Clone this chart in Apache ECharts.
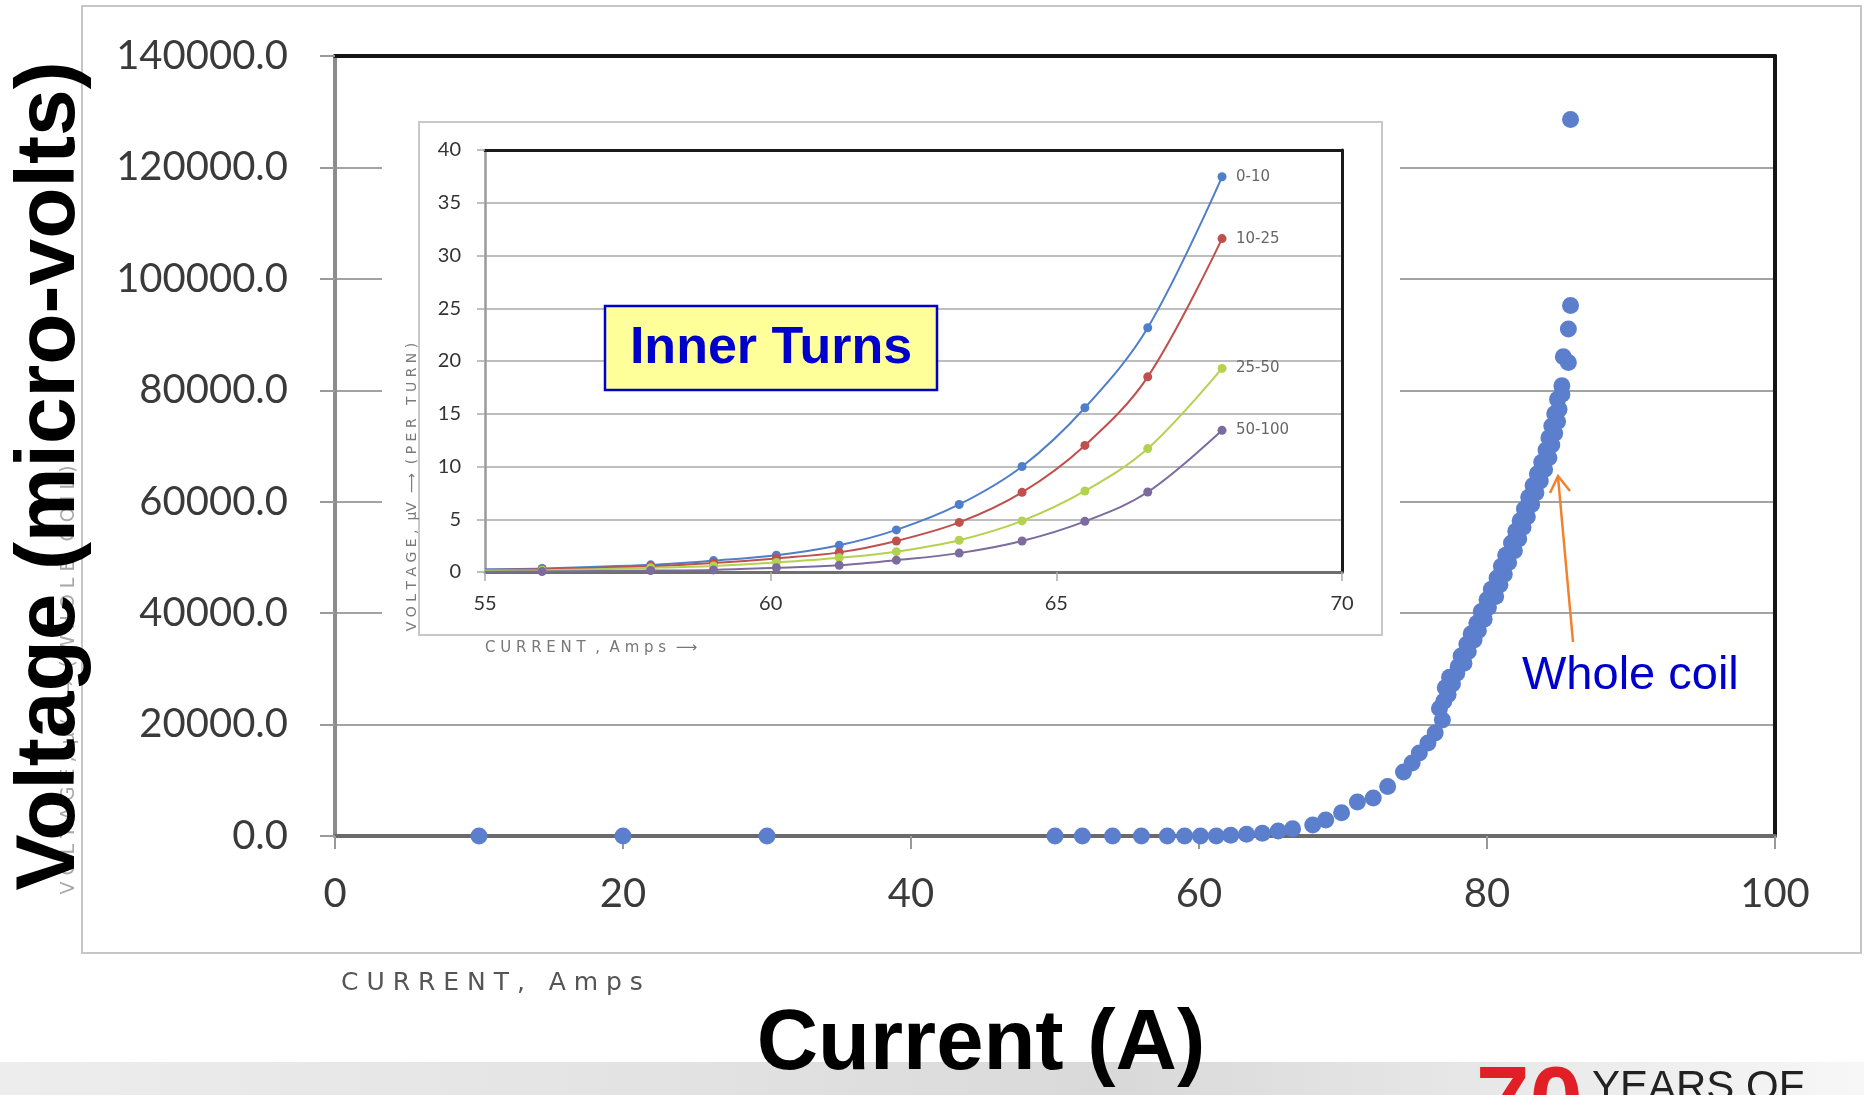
<!DOCTYPE html>
<html>
<head>
<meta charset="utf-8">
<script src="https://cdn.jsdelivr.net/npm/echarts@6/dist/echarts.min.js"></script>
<style>
  html, body { margin: 0; padding: 0; background: #ffffff; }
  #chart { width: 1864px; height: 1095px; }
</style>
</head>
<body>
<div id="chart"></div>
<script>
// ---- Whole coil: current (A) vs voltage (micro-volts) ----
const coilCurrent = [
  10, 20, 30, 50, 51.9, 54, 56, 57.8, 59, 60.1, 61.2, 62.2, 63.3, 64.4, 65.5, 66.5,
  67.9, 68.8, 69.9, 71.0, 72.1, 73.1, 74.2, 74.8, 75.3, 75.9, 76.4, 76.9,
  76.7, 77.0, 77.3, 77.1, 77.6, 77.4, 77.9, 78.0, 78.4, 78.2, 78.7, 78.6, 79.1, 78.9,
  79.4, 79.3, 79.8, 79.6, 80.1, 80.0, 80.6, 80.3, 80.9, 80.7, 81.2, 81.0, 81.5, 81.3,
  81.9, 81.7, 82.2, 82.0, 82.5, 82.3, 82.8, 82.6, 83.1, 82.9, 83.4, 83.2, 83.7, 83.5,
  84.0, 83.8, 84.3, 84.1, 84.5, 84.3, 84.7, 84.5, 84.9, 84.7, 85.0, 84.9, 85.2, 85.2,
  85.65, 85.3, 85.65, 85.8, 85.8
];
const coilVoltage = [
  0, 0, 0, 0, 0, 0, 0, 0, 0, 0, 0, 125, 300, 480, 900, 1300,
  1970, 2870, 4180, 6100, 6800, 8900, 11500, 13100, 14900, 16700, 18500, 20800,
  22900, 24200, 25400, 26600, 27300, 28500, 29200, 30400, 31000, 32300, 33100, 34400, 35200, 36300,
  36900, 38200, 38900, 40300, 41000, 42400, 43000, 44300, 45100, 46300, 47000, 48400, 49100, 50400,
  51200, 52600, 53300, 54700, 55400, 56600, 57300, 58700, 59500, 60800, 61600, 62900, 63700, 65000,
  65800, 67100, 67900, 69300, 70200, 71500, 72300, 73600, 74400, 75800, 76600, 78400, 79300, 80800,
  85000, 86000, 91000, 95200, 128600
];

// ---- Inner turns: voltage per turn (micro-volts) vs current (A) ----
const turnCurrent = [55, 56, 57.9, 59, 60.1, 61.2, 62.2, 63.3, 64.4, 65.5, 66.6, 67.9];
const turns0to10   = [0.27, 0.34, 0.68, 1.08, 1.59, 2.54, 3.99, 6.4, 10.0, 15.57, 23.15, 37.46];
const turns10to25  = [0.2, 0.27, 0.54, 0.85, 1.29, 1.86, 2.94, 4.7, 7.55, 12.0, 18.5, 31.6];
const turns25to50  = [0.14, 0.17, 0.4, 0.58, 0.91, 1.35, 1.93, 3.01, 4.84, 7.68, 11.7, 19.3];
const turns50to100 = [0.03, 0.05, 0.14, 0.2, 0.4, 0.64, 1.12, 1.79, 2.94, 4.8, 7.58, 13.43];
const turnGroups = ['0-10', '10-25', '25-50', '50-100'];
const turnColors = ['#4f7fca', '#c0504d', '#b4d24f', '#7b6b9f'];

// ---- Axis ranges ----
const mainXRange = { min: 0, max: 100, interval: 20 };
const mainYRange = { min: 0, max: 140000, interval: 20000 };
const innerXRange = { min: 55, max: 70, interval: 5 };
const innerYRange = { min: 0, max: 40, interval: 5 };

const chart = echarts.init(document.getElementById('chart'), null, { renderer: 'canvas' });

const tickFont = 'Lato';
const handFont = "'DejaVu Sans'";

function lineSeries(name, values, color) {
  return {
    type: 'line',
    name: name,
    xAxisIndex: 2,
    yAxisIndex: 2,
    z: 4,
    smooth: 0.35,
    symbol: 'circle',
    symbolSize: 9,
    lineStyle: { color: color, width: 2 },
    itemStyle: { color: color },
    data: values.map((v, i) => i === 0
      ? { value: [turnCurrent[i], v], symbol: 'none' }
      : [turnCurrent[i], v]),
    endLabel: {
      show: true,
      formatter: '{a}',
      distance: 14,
      color: '#666',
      fontFamily: 'DejaVu Sans',
      fontSize: 15
    },
    emphasis: { disabled: true }
  };
}

const option = {
  animation: false,
  backgroundColor: '#ffffff',
  grid: [
    { left: 335, top: 56, width: 1440, height: 780, show: false, z: 0 },
    { left: 485, top: 150, width: 857, height: 422, show: false, z: 3 }
  ],
  xAxis: [
    {
      type: 'value', gridIndex: 0, position: 'bottom', z: 0,
      min: mainXRange.min, max: mainXRange.max, interval: mainXRange.interval,
      axisLine: { show: true, onZero: false, lineStyle: { color: '#6a6a6a', width: 4 } },
      axisTick: { show: true, length: 13, lineStyle: { color: '#999', width: 2 } },
      axisLabel: { margin: 38, color: '#3a3a3a', fontFamily: tickFont, fontSize: 40 },
      splitLine: { show: false }
    },
    {
      type: 'value', gridIndex: 0, position: 'top', z: 0,
      min: mainXRange.min, max: mainXRange.max,
      axisLine: { show: true, onZero: false, lineStyle: { color: '#151515', width: 4 } },
      axisTick: { show: false }, axisLabel: { show: false }, splitLine: { show: false }
    },
    {
      type: 'value', gridIndex: 1, position: 'bottom', z: 3,
      min: innerXRange.min, max: innerXRange.max, interval: innerXRange.interval,
      axisLine: { show: true, onZero: false, lineStyle: { color: '#6f6f6f', width: 3 } },
      axisTick: { show: true, length: 9, lineStyle: { color: '#aaa', width: 1.5 } },
      axisLabel: { margin: 22, color: '#333', fontFamily: tickFont, fontSize: 20 },
      splitLine: { show: false }
    },
    {
      type: 'value', gridIndex: 1, position: 'top', z: 3,
      min: innerXRange.min, max: innerXRange.max,
      axisLine: { show: true, onZero: false, lineStyle: { color: '#1a1a1a', width: 3 } },
      axisTick: { show: false }, axisLabel: { show: false }, splitLine: { show: false }
    }
  ],
  yAxis: [
    {
      type: 'value', gridIndex: 0, position: 'left', z: 0,
      min: mainYRange.min, max: mainYRange.max, interval: mainYRange.interval,
      axisLine: { show: true, onZero: false, lineStyle: { color: '#8c8c8c', width: 4 } },
      axisTick: { show: true, length: 15, lineStyle: { color: '#9a9a9a', width: 2 } },
      axisLabel: {
        margin: 47, color: '#3a3a3a', fontFamily: tickFont, fontSize: 40,
        formatter: v => v.toFixed(1)
      },
      splitLine: { show: true, lineStyle: { color: '#a3a3a3', width: 2 } }
    },
    {
      type: 'value', gridIndex: 0, position: 'right', z: 0,
      min: mainYRange.min, max: mainYRange.max,
      axisLine: { show: true, onZero: false, lineStyle: { color: '#151515', width: 4 } },
      axisTick: { show: false }, axisLabel: { show: false }, splitLine: { show: false }
    },
    {
      type: 'value', gridIndex: 1, position: 'left', z: 3,
      min: innerYRange.min, max: innerYRange.max, interval: innerYRange.interval,
      axisLine: { show: true, onZero: false, lineStyle: { color: '#9a9a9a', width: 2.5 } },
      axisTick: { show: true, length: 8, lineStyle: { color: '#aaa', width: 1.5 } },
      axisLabel: { margin: 24, color: '#333', fontFamily: tickFont, fontSize: 20 },
      splitLine: { show: true, lineStyle: { color: '#a8a8a8', width: 1.5 } }
    },
    {
      type: 'value', gridIndex: 1, position: 'right', z: 3,
      min: innerYRange.min, max: innerYRange.max,
      axisLine: { show: true, onZero: false, lineStyle: { color: '#1a1a1a', width: 3 } },
      axisTick: { show: false }, axisLabel: { show: false }, splitLine: { show: false }
    }
  ],
  series: [
    {
      type: 'scatter',
      name: 'Whole coil',
      xAxisIndex: 0,
      yAxisIndex: 0,
      z: 4,
      symbol: 'circle',
      symbolSize: 17,
      itemStyle: { color: '#5b7fcd', opacity: 1 },
      data: coilCurrent.map((a, i) => [a, coilVoltage[i]]),
      emphasis: { disabled: true }
    },
    lineSeries(turnGroups[0], turns0to10, turnColors[0]),
    lineSeries(turnGroups[1], turns10to25, turnColors[1]),
    lineSeries(turnGroups[2], turns25to50, turnColors[2]),
    lineSeries(turnGroups[3], turns50to100, turnColors[3])
  ],
  graphic: [
    // slide band along the bottom edge
    {
      type: 'rect', z: 0, silent: true,
      shape: { x: 0, y: 1062, width: 1864, height: 33 },
      style: {
        fill: new echarts.graphic.LinearGradient(0, 0, 1, 0, [
          { offset: 0, color: '#ededed' },
          { offset: 0.35, color: '#e3e3e3' },
          { offset: 0.6, color: '#d9d9d9' },
          { offset: 0.8, color: '#e8e8e8' },
          { offset: 1, color: '#f7f7f7' }
        ])
      }
    },
    // frame of the scanned sheet
    {
      type: 'rect', z: 0, silent: true,
      shape: { x: 82, y: 6, width: 1779, height: 947 },
      style: { fill: 'none', stroke: '#c6c6c6', lineWidth: 2 }
    },
    // paper area of the inner-turns plot
    {
      type: 'rect', z: 1, silent: true,
      shape: { x: 382, y: 66, width: 1018, height: 612 },
      style: { fill: '#ffffff' }
    },
    {
      type: 'rect', z: 1, silent: true,
      shape: { x: 419, y: 122, width: 963, height: 513 },
      style: { fill: 'none', stroke: '#c8c8c8', lineWidth: 2 }
    },
    // handwritten axis notes
    {
      type: 'text', z: 2, silent: true,
      x: 412, y: 487, rotation: Math.PI / 2,
      style: {
        text: 'V O L T A G E ,  µV  ⟶  ( P E R   T U R N )',
        x: 0, y: 0, textAlign: 'center', textVerticalAlign: 'middle',
        font: '14px ' + handFont, fill: '#7a7a7a'
      }
    },
    {
      type: 'text', z: 2, silent: true,
      style: {
        text: 'C U R R E N T  ,  A m p s  ⟶',
        x: 485, y: 648, textAlign: 'left', textVerticalAlign: 'middle',
        font: '15px ' + handFont, fill: '#777'
      }
    },
    {
      type: 'text', z: 2, silent: true,
      style: {
        text: 'C U R R E N T ,   A m p s',
        x: 341, y: 983, textAlign: 'left', textVerticalAlign: 'middle',
        font: '25px ' + handFont, fill: '#555'
      }
    },
    {
      type: 'text', z: 2, silent: true,
      x: 69, y: 680, rotation: Math.PI / 2,
      style: {
        text: 'V O L T A G E ,  µV  ⟶  ( W H O L E   C O I L )',
        x: 0, y: 0, textAlign: 'center', textVerticalAlign: 'middle',
        font: '19px ' + handFont, fill: '#a8a8a8'
      }
    },
    // "Inner Turns" box
    {
      type: 'rect', z: 8, silent: true,
      shape: { x: 605, y: 306, width: 332, height: 84 },
      style: { fill: '#ffff99', stroke: '#0000cc', lineWidth: 2.5 }
    },
    {
      type: 'text', z: 9, silent: true,
      style: {
        text: 'Inner Turns', x: 771, y: 349,
        textAlign: 'center', textVerticalAlign: 'middle',
        font: "bold 52px 'Liberation Sans'", fill: '#0000cc'
      }
    },
    // "Whole coil" note with arrow
    {
      type: 'polyline', z: 9, silent: true,
      shape: { points: [[1573, 642], [1558, 477]] },
      style: { stroke: '#f0822e', lineWidth: 2.5, fill: 'none' }
    },
    {
      type: 'polyline', z: 9, silent: true,
      shape: { points: [[1550, 493], [1558, 476], [1570, 491]] },
      style: { stroke: '#f0822e', lineWidth: 2.5, fill: 'none' }
    },
    {
      type: 'text', z: 9, silent: true,
      style: {
        text: 'Whole coil', x: 1522, y: 676,
        textAlign: 'left', textVerticalAlign: 'middle',
        font: "47px 'Liberation Sans'", fill: '#0000cc'
      }
    },
    // axis titles
    {
      type: 'text', z: 10, silent: true,
      x: 51, y: 476, rotation: Math.PI / 2,
      style: {
        text: 'Voltage (micro-volts)', x: 0, y: 0,
        textAlign: 'center', textVerticalAlign: 'middle',
        font: "bold 84px 'Liberation Sans'", fill: '#000000'
      }
    },
    {
      type: 'text', z: 10, silent: true,
      style: {
        text: 'Current (A)', x: 981, y: 1046,
        textAlign: 'center', textVerticalAlign: 'middle',
        font: "bold 85px 'Liberation Sans'", fill: '#000000'
      }
    },
    // logo
    {
      type: 'text', z: 10, silent: true,
      style: {
        text: '70', x: 1476, y: 1108,
        textAlign: 'left', textVerticalAlign: 'middle',
        font: "bold 96px 'Liberation Sans'", fill: '#e21e26'
      }
    },
    {
      type: 'text', z: 10, silent: true,
      style: {
        text: 'YEARS OF', x: 1592, y: 1088,
        textAlign: 'left', textVerticalAlign: 'middle',
        font: "42px 'Liberation Sans'", fill: '#222'
      }
    }
  ]
};

chart.setOption(option);
</script>
</body>
</html>
